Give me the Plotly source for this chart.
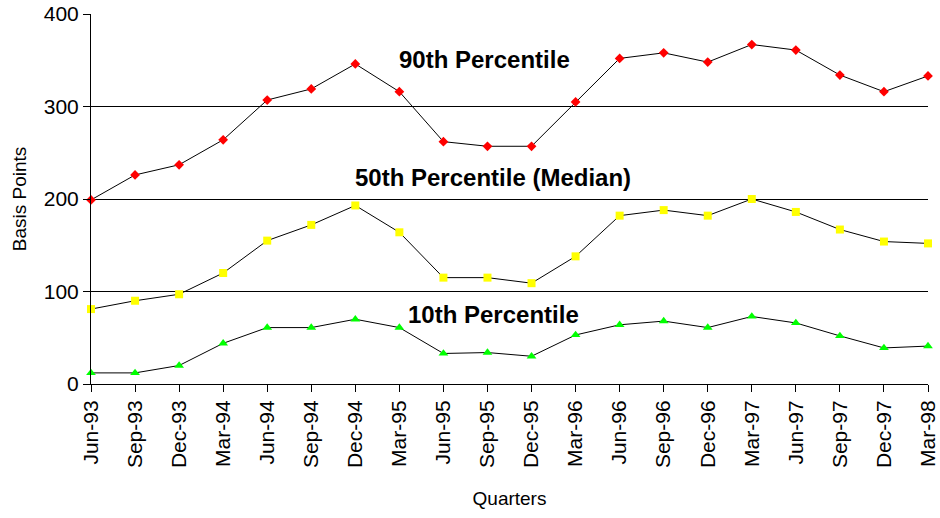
import plotly.graph_objects as go

quarters = ["Jun-93", "Sep-93", "Dec-93", "Mar-94", "Jun-94", "Sep-94", "Dec-94",
            "Mar-95", "Jun-95", "Sep-95", "Dec-95", "Mar-96", "Jun-96", "Sep-96",
            "Dec-96", "Mar-97", "Jun-97", "Sep-97", "Dec-97", "Mar-98"]

p90 = [199, 226, 237, 264, 307, 319, 346, 316, 262, 257, 257, 305, 352, 358,
       348, 367, 361, 334, 316, 333]
p50 = [81, 90, 97, 120, 155, 172, 193, 164, 115, 115, 109, 138, 182, 188,
       182, 200, 186, 167, 154, 152]
p10 = [12, 12, 20, 44, 61, 61, 70, 61, 33, 34, 30, 53, 64, 68,
       61, 73, 66, 52, 39, 41]

y_ticks = [0, 100, 200, 300, 400]

FONT = "Liberation Sans, Arial, sans-serif"

fig = go.Figure()

series = [
    (p90, "90th Percentile", "diamond", "#FF0000", 7.5),
    (p50, "50th Percentile (Median)", "square", "#FFFF00", 8),
    (p10, "10th Percentile", "triangle-up", "#00FF00", 8.5),
]
for values, name, symbol, color, size in series:
    fig.add_trace(go.Scatter(
        x=quarters, y=values, name=name, mode="lines+markers",
        line=dict(color="black", width=1),
        marker=dict(symbol=symbol, color=color, size=size, line=dict(width=0)),
        cliponaxis=False,
    ))

# series captions: horizontal position as a fraction of the plot width,
# vertical position in data units
captions = [
    ("90th Percentile", 0.4707, 350.5),
    ("50th Percentile (Median)", 0.4797, 223.5),
    ("10th Percentile", 0.4809, 75.5),
]
for text, xpos, ypos in captions:
    fig.add_annotation(
        x=xpos, y=ypos, xref="paper", yref="y", text=f"<b>{text}</b>",
        showarrow=False, font=dict(family=FONT, size=24, color="black"),
    )

fig.update_layout(
    width=940, height=518,
    margin=dict(l=91, r=12, t=14, b=134),
    plot_bgcolor="white", paper_bgcolor="white",
    showlegend=False,
    font=dict(family=FONT, color="black"),
)

fig.update_xaxes(
    type="category", range=[0, len(quarters) - 1], automargin=False,
    showline=True, linecolor="black", linewidth=1,
    ticks="outside", ticklen=7, tickcolor="black", tickwidth=1,
    tickangle=-90, tickfont=dict(family=FONT, size=21),
    showgrid=False,
    title=dict(text="Quarters", font=dict(family=FONT, size=19), standoff=24),
)

fig.update_yaxes(
    range=[0, 400], tickvals=y_ticks, automargin=False,
    showline=True, linecolor="black", linewidth=1,
    ticks="outside", ticklen=7, tickcolor="black", tickwidth=1,
    tickfont=dict(family=FONT, size=21),
    showgrid=True, gridcolor="black", gridwidth=1,
    zeroline=False,
    title=dict(text="Basis Points", font=dict(family=FONT, size=19), standoff=12),
)

fig.write_html("out.html")
